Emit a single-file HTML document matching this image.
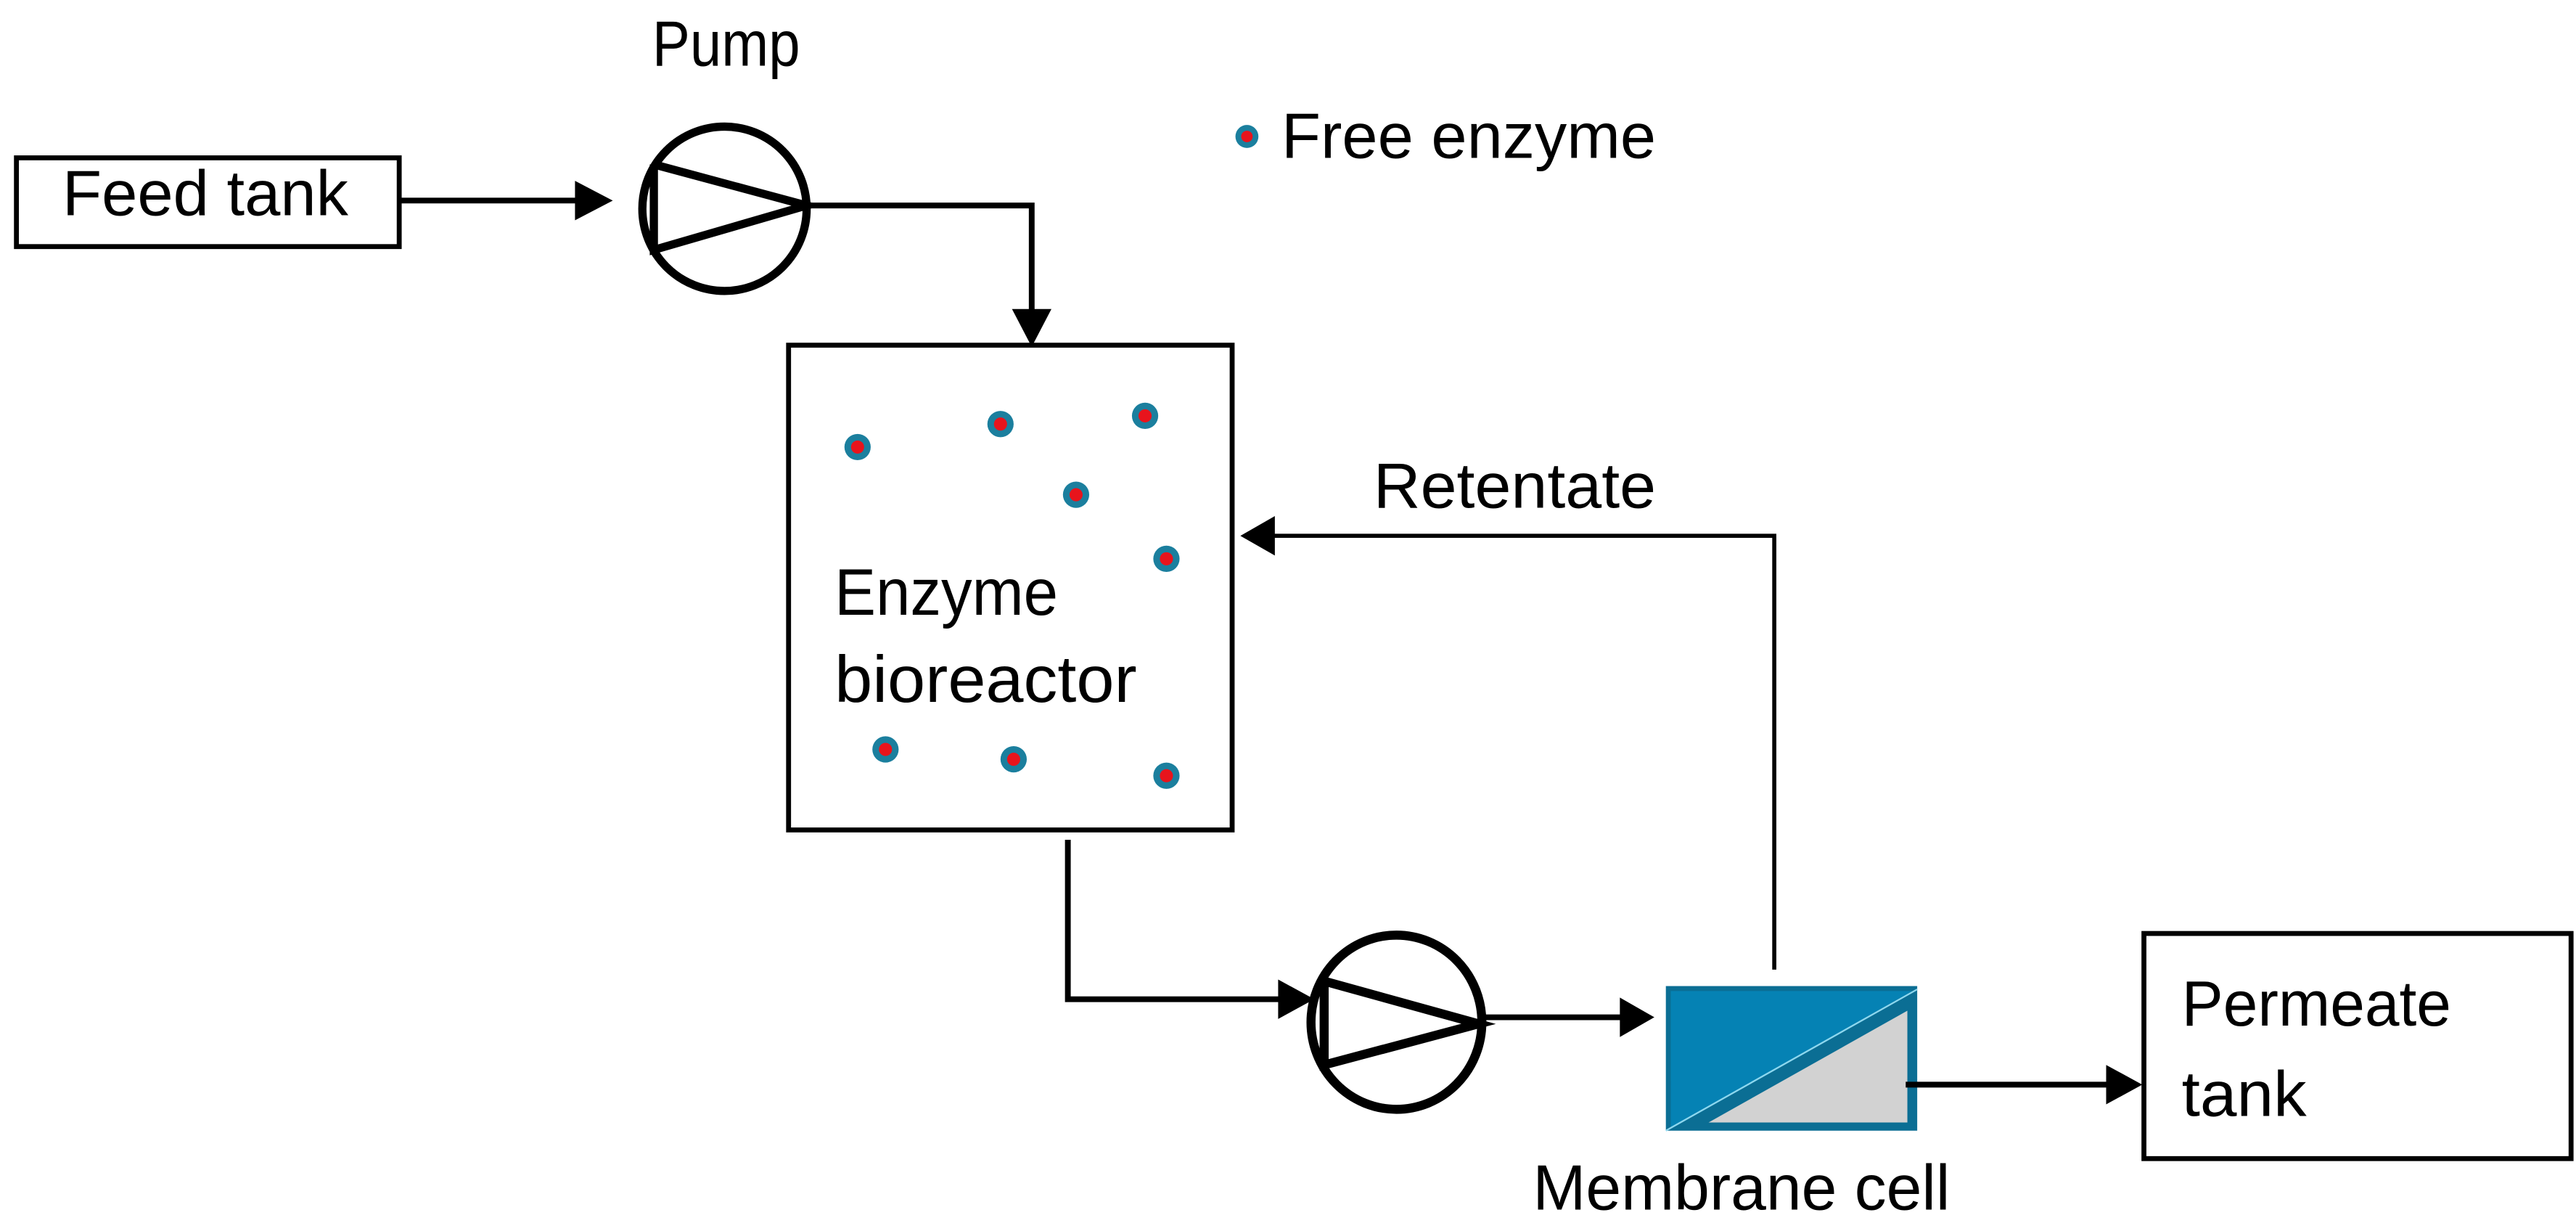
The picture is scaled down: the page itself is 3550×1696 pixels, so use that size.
<!DOCTYPE html>
<html><head><meta charset="utf-8"><style>
html,body{margin:0;padding:0;background:#fff;}
svg{display:block;}
text{font-family:"Liberation Sans",sans-serif;fill:#000;}
</style></head><body>
<svg width="3550" height="1696" viewBox="0 0 1568 749" xmlns="http://www.w3.org/2000/svg">
<rect width="1568" height="749" fill="#fff"/>
<!-- Feed tank -->
<rect x="10" y="96" width="233" height="54" fill="none" stroke="#000" stroke-width="3"/>
<text x="38" y="131" font-size="39" textLength="174" lengthAdjust="spacingAndGlyphs">Feed tank</text>
<line x1="243" y1="122" x2="355" y2="122" stroke="#000" stroke-width="3.5"/>
<polygon points="350,110 373,122 350,134" fill="#000"/>
<!-- Pump 1 -->
<text x="397" y="40" font-size="39" textLength="90" lengthAdjust="spacingAndGlyphs">Pump</text>
<ellipse cx="441" cy="127" rx="50" ry="50" fill="none" stroke="#000" stroke-width="5"/>
<polyline points="398,100 491,125 398,152 398,100" fill="none" stroke="#000" stroke-width="5" stroke-linejoin="miter"/>
<polyline points="491,125 628,125 628,192" fill="none" stroke="#000" stroke-width="3.5"/>
<polygon points="616,188 628,211 640,188" fill="#000"/>
<!-- Legend -->
<circle cx="759" cy="83" r="7" fill="#1b7f9e"/><circle cx="759" cy="83" r="3.5" fill="#e8141c"/>
<text x="780" y="96" font-size="39" textLength="228" lengthAdjust="spacingAndGlyphs">Free enzyme</text>
<!-- Bioreactor -->
<rect x="480" y="210" width="270" height="295" fill="none" stroke="#000" stroke-width="3"/>
<g>
<circle cx="522" cy="272" r="8" fill="#1b7f9e"/><circle cx="522" cy="272" r="4" fill="#e8141c"/>
<circle cx="609" cy="258" r="8" fill="#1b7f9e"/><circle cx="609" cy="258" r="4" fill="#e8141c"/>
<circle cx="697" cy="253" r="8" fill="#1b7f9e"/><circle cx="697" cy="253" r="4" fill="#e8141c"/>
<circle cx="655" cy="301" r="8" fill="#1b7f9e"/><circle cx="655" cy="301" r="4" fill="#e8141c"/>
<circle cx="710" cy="340" r="8" fill="#1b7f9e"/><circle cx="710" cy="340" r="4" fill="#e8141c"/>
<circle cx="539" cy="456" r="8" fill="#1b7f9e"/><circle cx="539" cy="456" r="4" fill="#e8141c"/>
<circle cx="617" cy="462" r="8" fill="#1b7f9e"/><circle cx="617" cy="462" r="4" fill="#e8141c"/>
<circle cx="710" cy="472" r="8" fill="#1b7f9e"/><circle cx="710" cy="472" r="4" fill="#e8141c"/>
</g>
<text x="508" y="374" font-size="40" textLength="136" lengthAdjust="spacingAndGlyphs">Enzyme</text>
<text x="508" y="427" font-size="40" textLength="184" lengthAdjust="spacingAndGlyphs">bioreactor</text>
<!-- Retentate -->
<text x="836" y="309" font-size="39" textLength="172" lengthAdjust="spacingAndGlyphs">Retentate</text>
<polyline points="1080,590 1080,326 772,326" fill="none" stroke="#000" stroke-width="2.5"/>
<polygon points="776,314 755,326 776,338" fill="#000"/>
<!-- bottom line to pump 2 -->
<polyline points="650,511 650,608 782,608" fill="none" stroke="#000" stroke-width="3.5"/>
<polygon points="778,596 800,608 778,620" fill="#000"/>
<!-- Pump 2 -->
<ellipse cx="850" cy="622" rx="52" ry="53" fill="none" stroke="#000" stroke-width="5.5"/>
<polyline points="806,597 900,623 806,648 806,597" fill="none" stroke="#000" stroke-width="5.5"/>
<line x1="900" y1="619" x2="990" y2="619" stroke="#000" stroke-width="3.5"/>
<polygon points="986,607 1007,619 986,631" fill="#000"/>
<!-- Membrane cell -->
<rect x="1014" y="600" width="153" height="88" fill="#0b6e94"/>
<polygon points="1017,603 1164,603 1017,686" fill="#0582b4"/>
<polygon points="1040,683 1161,615 1161,683" fill="#d2d2d2"/>
<line x1="1014" y1="688" x2="1167" y2="602" stroke="#8ed8ef" stroke-width="1"/>
<line x1="1160" y1="660" x2="1285" y2="660" stroke="#000" stroke-width="3.5"/>
<polygon points="1282,648 1304,660 1282,672" fill="#000"/>
<text x="933" y="736" font-size="39" textLength="254" lengthAdjust="spacingAndGlyphs">Membrane cell</text>
<!-- Permeate tank -->
<rect x="1305" y="568" width="260" height="137" fill="none" stroke="#000" stroke-width="3"/>
<text x="1328" y="624" font-size="39" textLength="164" lengthAdjust="spacingAndGlyphs">Permeate</text>
<text x="1328" y="679" font-size="39" textLength="76" lengthAdjust="spacingAndGlyphs">tank</text>
</svg>
</body></html>
